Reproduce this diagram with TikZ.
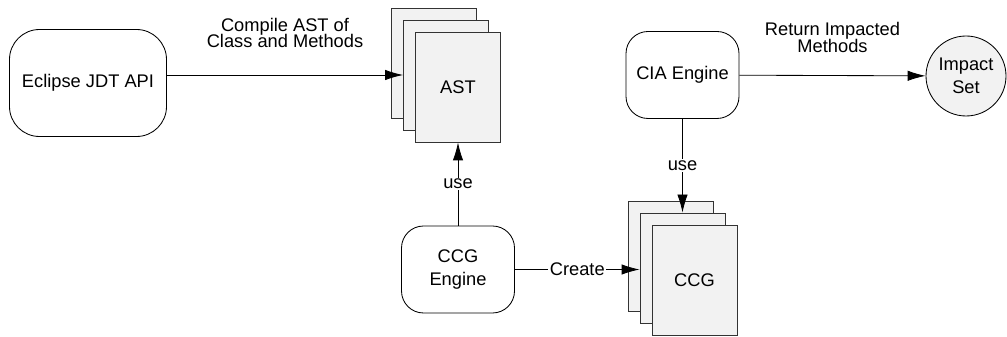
\documentclass[tikz,border=0pt]{standalone}
\usepackage{fontspec}
\setmainfont{Liberation Sans}
\usetikzlibrary{shapes,arrows.meta}
\tikzstyle{engine} = [rectangle, draw, fill=white, 
    align=center, rounded corners=0.55cm, minimum width=2.825cm, minimum height=2.175cm]
\tikzstyle{enginewide} = [rectangle, draw, fill=white, 
    align=center, rounded corners=0.75cm, minimum width=3.925cm, minimum height=2.675cm]
\tikzstyle{page} = [rectangle, draw=black!80, fill=black!5, 
    minimum width=2.125cm, minimum height=2.75cm, inner sep=0pt]
\tikzstyle{result} = [circle, draw, fill=black!5, align=center, minimum size=2cm, inner sep=0pt]
\tikzstyle{line} = [draw, -{Latex[length=4.5mm,width=2.6mm]}]
\tikzstyle{tag} = [fill=white, inner sep=1pt]

\begin{document}
\begin{tikzpicture}[font=\fontsize{13}{16}\selectfont, line width=0.6pt]
 \useasboundingbox (0,0) rectangle (25.175,8.4);
 \node at (2.2,6.325) [enginewide, name=jdt] {Eclipse JDT API};
 % stack of AST pages
 \node at (10.85,6.825) [page, name=ASTback] {};
 \node at (11.15,6.525) [page, name=ASTmid] {};
 \node at (11.45,6.225) [page, name=AST] {AST};
 \node at (11.45,1.6625) [engine, name=engineCCG] {CCG\\Engine};
 % stack of CCG pages
 \node at (16.7625,2.0) [page, name=CCGback] {};
 \node at (17.0625,1.7) [page, name=CCGmid] {};
 \node at (17.3625,1.4) [page, name=CCG] {CCG};
 \node at (17.0625,6.525) [engine, name=engineCIA] {CIA Engine};
 \node at (24.15,6.5) [result, name=impact] {Impact\\Set};
 \path [line] (jdt.east |- ASTmid) -- node[midway, yshift=1.05cm, align=center] (compiletext) {Compile AST of\\[-4pt]Class and Methods} (ASTmid.west);
 \path [line] (engineCCG) -- node[tag] (usetextA) {use} (AST);
 \path [line] (engineCCG.east) -- node[tag] (createtext) {Create} (engineCCG.east -| CCGmid.west);
 \path [line] (engineCIA) -- node[tag] (usetextB) {use} (CCGmid);
 \path [line] (engineCIA) -- node[midway, yshift=0.95cm, align=center] (returntext) {Return Impacted\\[-4pt]Methods} (impact);
\end{tikzpicture}
\end{document}
